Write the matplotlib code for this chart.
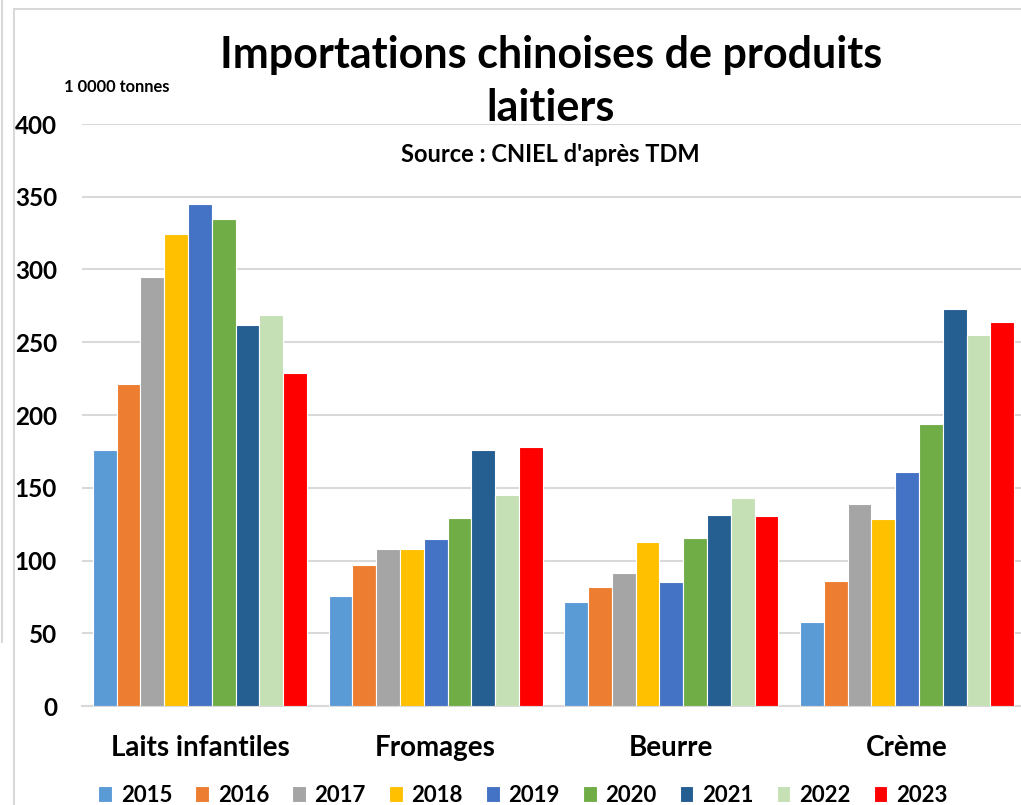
import matplotlib
matplotlib.use("Agg")
import matplotlib.pyplot as plt
from matplotlib.patches import Rectangle
from matplotlib.lines import Line2D
import numpy as np

categories = ["Laits infantiles", "Fromages", "Beurre", "Crème"]
years = ["2015", "2016", "2017", "2018", "2019", "2020", "2021", "2022", "2023"]
v2015 = [176, 75.6, 71.3, 57.5]
v2016 = [221, 96.9, 81.6, 86]
v2017 = [295, 108, 91.4, 138.5]
v2018 = [324.6, 108, 112.7, 128.5]
v2019 = [345, 114.6, 85.2, 161]
v2020 = [335, 129.2, 115.5, 194]
v2021 = [261.6, 175.7, 131, 272.6]
v2022 = [268.5, 145, 143, 254.8]
v2023 = [228.7, 178, 130.4, 264]
colors = ["#5B9BD5", "#ED7D31", "#A5A5A5", "#FFC000", "#4472C4",
          "#70AD47", "#255E91", "#C5E0B4", "#FF0000"]
yticks = [0, 50, 100, 150, 200, 250, 300, 350, 400]

series = [v2015, v2016, v2017, v2018, v2019, v2020, v2021, v2022, v2023]

FONT = "Lato"
plt.rcParams['font.family'] = [FONT, 'DejaVu Sans']

W, H = 1021, 805
fig = plt.figure(figsize=(W / 100, H / 100), dpi=100)

# outer frame
fig.patches.append(Rectangle((14 / W, -0.1), 1.2, 1 - 9 / H + 0.1, transform=fig.transFigure,
                             fill=False, edgecolor="#d9d9d9", linewidth=1.5, zorder=0))
fig.lines.append(Line2D([1.5 / W, 1.5 / W], [1, 1 - 642 / H], transform=fig.transFigure,
                        color="#d9d9d9", linewidth=1.5))

left, right, top, bottom = 82, 1025, 124, 706
ax = fig.add_axes([left / W, 1 - bottom / H, (right - left) / W, (bottom - top) / H])

x = np.arange(len(categories))
n = len(series)
group = 0.907
bw = group / n
for i, (vals, c, yr) in enumerate(zip(series, colors, years)):
    ax.bar(x - group / 2 + bw * (i + 0.5), vals, width=bw, color=c,
           edgecolor="white", linewidth=0.8, label=yr, zorder=3)

ax.set_xlim(-0.5, 3.5)
ax.set_ylim(0, 400)
ax.set_yticks(yticks)
ax.set_yticklabels([str(t) for t in yticks], fontsize=17.5, fontweight="bold")
ax.set_xticks(x)
ax.set_xticklabels(categories, fontsize=20, fontweight="bold")
ax.tick_params(axis="y", length=0, pad=18)
ax.tick_params(axis="x", length=0, pad=21)
ax.grid(axis="y", color="#d9d9d9", linewidth=1.5, zorder=0)
for s in ax.spines.values():
    s.set_visible(False)
ax.spines["bottom"].set_visible(True)
ax.spines["bottom"].set_color("#d9d9d9")
ax.spines["bottom"].set_linewidth(1.5)

fig.text(551 / W, 1 - 55 / H, "Importations chinoises de produits", ha="center", va="center",
         fontsize=31, fontweight="bold")
fig.text(551 / W, 1 - 108 / H, "laitiers", ha="center", va="center",
         fontsize=31, fontweight="bold")
fig.text(550 / W, 1 - 155 / H, "Source : CNIEL d'après TDM", ha="center", va="center",
         fontsize=17, fontweight="bold")
fig.text(64 / W, 1 - 87 / H, "1 0000 tonnes", ha="left", va="center",
         fontsize=11.9, fontweight="bold")

handles, labels = ax.get_legend_handles_labels()
fig.legend(handles, labels, loc="center", bbox_to_anchor=(523 / W, 1 - 795 / H), ncol=9,
           frameon=False, prop={"size": 16, "weight": "bold"},
           handlelength=0.6, handleheight=0.75, handletextpad=0.4, columnspacing=1.05)

fig.savefig("out.png", dpi=100)
